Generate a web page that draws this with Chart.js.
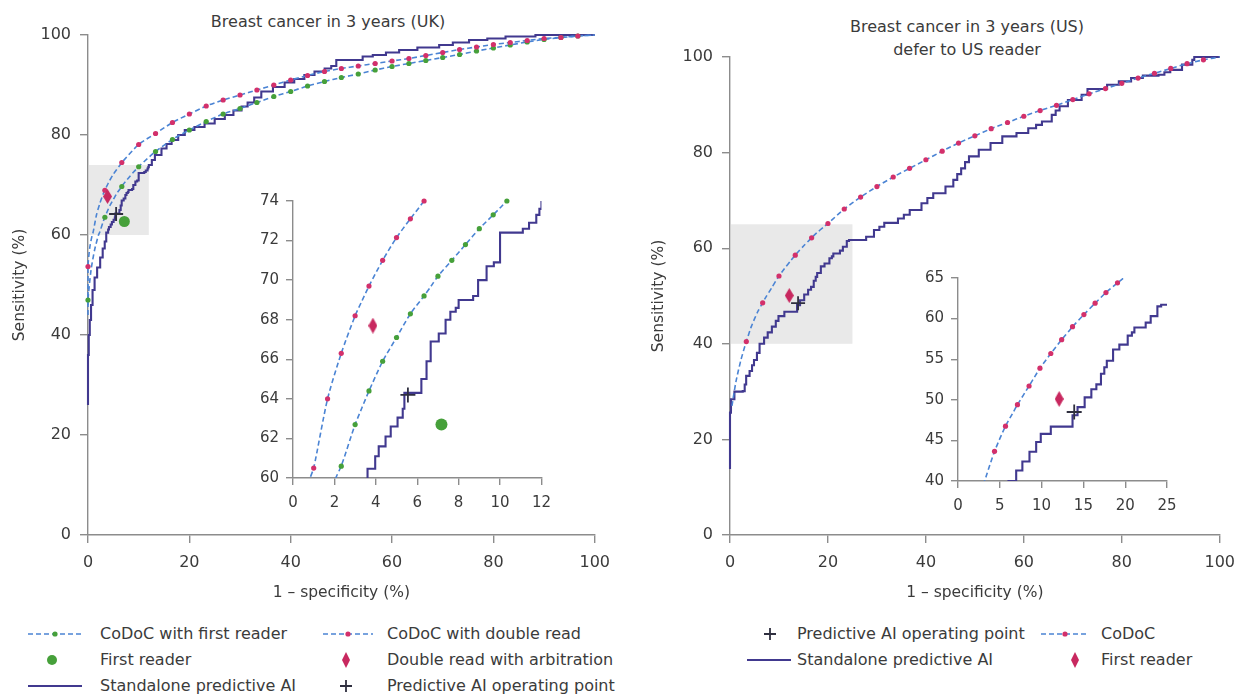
<!DOCTYPE html>
<html>
<head>
<meta charset="utf-8">
<script src="https://cdn.jsdelivr.net/npm/chart.js@4.4.1/dist/chart.umd.min.js"></script>
<style>
  body { margin: 0; width: 1245px; height: 698px; background: #fff; position: relative; overflow: hidden;
         font-family: "DejaVu Sans", sans-serif; color: #3b3b3b; }
  .pane { position: absolute; }
  .title { position: absolute; font-size: 16px; text-align: center; line-height: 23px; white-space: nowrap; }
  .sym { position: absolute; }
  .lab { position: absolute; font-size: 16px; white-space: nowrap; line-height: 18px; }
</style>
</head>
<body>

<div class="title" style="left:178px;top:10px;width:300px">Breast cancer in 3 years (UK)</div>
<div class="title" style="left:817px;top:15px;width:300px">Breast cancer in 3 years (US)<br>defer to US reader</div>

<div class="pane" style="left:0;top:0"><canvas id="ukMain" width="620" height="615"></canvas></div>
<div class="pane" style="left:620px;top:0"><canvas id="usMain" width="625" height="615"></canvas></div>
<div class="pane" style="left:240px;top:185px"><canvas id="ukInset" width="320" height="340"></canvas></div>
<div class="pane" style="left:900px;top:262px"><canvas id="usInset" width="290" height="260"></canvas></div>

<!-- legend, UK panel -->
<svg class="sym" style="left:27px;top:628px" width="56" height="12"><line x1="1" y1="6" x2="55" y2="6" stroke="#4b84d4" stroke-width="1.6" stroke-dasharray="5 3"/><circle cx="28" cy="6" r="2.6" fill="#46a03a"/></svg>
<div class="lab" style="left:100px;top:625px">CoDoC with first reader</div>
<svg class="sym" style="left:322px;top:628px" width="52" height="12"><line x1="1" y1="6" x2="51" y2="6" stroke="#4b84d4" stroke-width="1.6" stroke-dasharray="5 3"/><circle cx="26" cy="6" r="2.6" fill="#d3306b"/></svg>
<div class="lab" style="left:387px;top:625px">CoDoC with double read</div>

<svg class="sym" style="left:45px;top:653px" width="14" height="14"><circle cx="7" cy="7" r="5" fill="#46a03a"/></svg>
<div class="lab" style="left:100px;top:651px">First reader</div>
<svg class="sym" style="left:341px;top:651px" width="10" height="18"><polygon points="5,1 9,9 5,17 1,9" fill="#c8285f"/></svg>
<div class="lab" style="left:387px;top:651px">Double read with arbitration</div>

<svg class="sym" style="left:27px;top:680px" width="56" height="12"><line x1="1" y1="6" x2="55" y2="6" stroke="#41398f" stroke-width="2.2"/></svg>
<div class="lab" style="left:100px;top:677px">Standalone predictive AI</div>
<svg class="sym" style="left:339px;top:679px" width="14" height="14"><path d="M7 1V13M1 7H13" stroke="#2f2f3f" stroke-width="1.8"/></svg>
<div class="lab" style="left:387px;top:677px">Predictive AI operating point</div>

<!-- legend, US panel -->
<svg class="sym" style="left:763px;top:627px" width="14" height="14"><path d="M7 1V13M1 7H13" stroke="#2f2f3f" stroke-width="1.8"/></svg>
<div class="lab" style="left:797px;top:625px">Predictive AI operating point</div>
<svg class="sym" style="left:1040px;top:628px" width="50" height="12"><line x1="1" y1="6" x2="49" y2="6" stroke="#4b84d4" stroke-width="1.6" stroke-dasharray="5 3"/><circle cx="25" cy="6" r="2.6" fill="#d3306b"/></svg>
<div class="lab" style="left:1101px;top:625px">CoDoC</div>
<svg class="sym" style="left:746px;top:654px" width="46" height="12"><line x1="1" y1="6" x2="45" y2="6" stroke="#41398f" stroke-width="2.2"/></svg>
<div class="lab" style="left:797px;top:651px">Standalone predictive AI</div>
<svg class="sym" style="left:1070px;top:651px" width="10" height="18"><polygon points="5,1 9,9 5,17 1,9" fill="#c8285f"/></svg>
<div class="lab" style="left:1101px;top:651px">First reader</div>

<script>
// ---- data: UK panel (x = 1 - specificity %, y = sensitivity %) ----
const ukTicks = [0, 20, 40, 60, 80, 100];
const ukInsetX = [0, 12];
const ukInsetY = [60, 74];
const ukInsetTicksX = [0, 2, 4, 6, 8, 10, 12];
const ukInsetTicksY = [60, 62, 64, 66, 68, 70, 72, 74];

// CoDoC with double read
const ukDoubleCurve = [[0,46],[0,53.7],[0.35,57.5],[0.83,60],[1.0,60.5],[1.67,64.0],[2.33,66.3],[3.0,68.2],[3.33,68.95],
  [3.67,69.7],[4.33,71.0],[5.0,72.15],[5.67,73.1],[6.33,74.0],[6.67,74.5],[10,78.1],[13.33,80.3],[16.67,82.5],[20,84.2],
  [23.33,85.8],[26.67,87.0],[30,88.0],[33.33,89.0],[36.67,90.0],[40,91.0],[43.33,91.9],[46.67,92.7],[50,93.3],[53.33,93.8],
  [56.67,94.3],[60,94.8],[63.33,95.3],[66.67,95.9],[70,96.5],[73.33,97.1],[76.67,97.6],[80,98.1],[83.33,98.5],[86.67,98.9],
  [90,99.3],[93.33,99.5],[96.67,99.8],[100,100]];
const ukDoubleMarks = [[0,53.7],[3.33,68.95],[6.67,74.5],[10,78.1],[13.33,80.3],[16.67,82.5],[20,84.2],[23.33,85.8],
  [26.67,87.0],[30,88.0],[33.33,89.0],[36.67,90.0],[40,91.0],[43.33,91.9],[46.67,92.7],[50,93.3],[53.33,93.8],[56.67,94.3],
  [60,94.8],[63.33,95.3],[66.67,95.9],[70,96.5],[73.33,97.1],[76.67,97.6],[80,98.1],[83.33,98.5],[86.67,98.9],[90,99.3],
  [93.33,99.5],[96.67,99.8]];
const ukDoubleInsetMarks = [[1.0,60.5],[1.67,64.0],[2.33,66.3],[3.0,68.2],[3.67,69.7],[4.33,71.0],[5.0,72.15],[5.67,73.1],[6.33,74.0]];

// CoDoC with first reader
const ukFirstCurve = [[0,44],[0,47],[0.6,53],[1.3,57],[2.07,60],[2.33,60.6],[3.0,62.7],[3.33,63.55],[3.67,64.4],[4.33,65.9],
  [5.0,67.1],[5.67,68.3],[6.33,69.2],[6.67,69.7],[7.0,70.2],[7.67,71.0],[8.33,71.8],[9.0,72.6],[9.67,73.3],[10,73.65],
  [10.33,74.0],[13.33,76.7],[16.67,79.1],[20,81.0],[23.33,82.7],[26.67,84.2],[30,85.3],[33.33,86.5],[36.67,87.7],[40,88.7],
  [43.33,89.8],[46.67,90.7],[50,91.5],[53.33,92.2],[56.67,93.0],[60,93.7],[63.33,94.3],[66.67,94.9],[70,95.5],[73.33,96.1],
  [76.67,96.8],[80,97.4],[83.33,98.0],[86.67,98.6],[90,99.1],[93.33,99.5],[96.67,99.8],[100,100]];
const ukFirstMarks = [[0,47],[3.33,63.55],[6.67,69.7],[10,73.65],[13.33,76.7],[16.67,79.1],[20,81.0],[23.33,82.7],[26.67,84.2],
  [30,85.3],[33.33,86.5],[36.67,87.7],[40,88.7],[43.33,89.8],[46.67,90.7],[50,91.5],[53.33,92.2],[56.67,93.0],[60,93.7],
  [63.33,94.3],[66.67,94.9],[70,95.5],[73.33,96.1],[76.67,96.8],[80,97.4],[83.33,98.0],[86.67,98.6],[90,99.1],[93.33,99.5],
  [96.67,99.8]];
const ukFirstInsetMarks = [[2.33,60.6],[3.0,62.7],[3.67,64.4],[4.33,65.9],[5.0,67.1],[5.67,68.3],[6.33,69.2],[7.0,70.2],
  [7.67,71.0],[8.33,71.8],[9.0,72.6],[9.67,73.3],[10.33,74.0]];

// Standalone predictive AI (step corners)
const ukAiCurve = [[0,26],[0,36],[0.15,40],[0.35,43],[0.6,46],[0.9,49],[1.3,51.5],[1.8,53.5],[2.4,55.5],[2.9,57.3],[3.3,58.7],
  [3.6,60.47],[3.97,61.1],[4.14,61.6],[4.47,62.1],[4.72,62.6],[5.05,63.05],[5.3,63.5],[5.38,64.3],[6.2,65.0],[6.45,65.9],
  [6.65,66.9],[7.04,67.3],[7.37,68.0],[7.6,68.4],[7.86,68.6],[8.0,69.0],[8.7,69.2],[8.94,70.0],[9.35,70.7],[9.7,70.9],
  [10.0,72.4],[11.1,72.6],[11.4,72.9],[11.75,73.3],[11.9,73.6],[12.0,74.0],[12.6,75.0],[13.2,76.0],[14.5,77.3],[15.5,78.2],
  [16.5,79.0],[17.8,80.0],[19.1,81.0],[21.0,81.6],[23.0,82.3],[25.0,83.2],[27.0,84.0],[28.7,84.9],[30.3,85.7],[31.5,86.5],
  [32.8,87.5],[34.2,88.7],[36.5,89.6],[38.8,90.5],[40.7,91.2],[42.7,92.0],[44.7,92.7],[46.7,93.3],[48.0,93.8],[49.0,95.0],
  [54.2,95.7],[56.2,96.0],[58.8,96.5],[61.4,97.0],[65.0,97.5],[69.3,98.0],[72.0,98.5],[75.2,99.0],[78.8,99.3],[82.4,99.7],
  [88.3,100],[100,100]];

const ukAiPoint = [[5.55, 64.2]];
const ukDoubleReadPoint = [[3.86, 67.7]];
const ukFirstReaderPoint = [[7.17, 62.7]];

// ---- data: US panel ----
const usTicks = [0, 20, 40, 60, 80, 100];
const usInsetX = [0, 25];
const usInsetY = [40, 65];
const usInsetTicksX = [0, 5, 10, 15, 20, 25];
const usInsetTicksY = [40, 45, 50, 55, 60, 65];

const usCodocCurve = [[0.4,27],[1.2,32],[2.2,36.5],[3.18,40],[3.33,40.46],[4.37,43.65],[5.68,46.75],[6.67,48.58],[7.11,49.4],
  [8.5,51.7],[9.8,53.9],[10,54.18],[11.1,55.7],[12.4,57.4],[13.33,58.54],[13.7,59.0],[15.06,60.5],[16.4,61.9],[16.67,62.17],
  [17.7,63.2],[19.08,64.4],[20,65.17],[23.33,68.2],[26.67,70.7],[30,72.9],[33.33,74.9],[36.67,76.7],[40,78.5],[43.33,80.3],
  [46.67,82],[50,83.5],[53.33,85.0],[56.67,86.3],[60,87.6],[63.33,88.8],[66.67,89.9],[70,91.1],[73.33,92.3],[76.67,93.4],
  [80,94.5],[83.33,95.6],[86.67,96.6],[90,97.6],[93.33,98.6],[96.67,99.4],[100,100]];
const usCodocMarks = [[3.33,40.46],[6.67,48.58],[10,54.18],[13.33,58.54],[16.67,62.17],[20,65.17],[23.33,68.2],[26.67,70.7],
  [30,72.9],[33.33,74.9],[36.67,76.7],[40,78.5],[43.33,80.3],[46.67,82],[50,83.5],[53.33,85.0],[56.67,86.3],[60,87.6],
  [63.33,88.8],[66.67,89.9],[70,91.1],[73.33,92.3],[76.67,93.4],[80,94.5],[83.33,95.6],[86.67,96.6],[90,97.6],[93.33,98.6],
  [96.67,99.4]];
const usCodocInsetMarks = [[4.37,43.65],[5.68,46.75],[7.11,49.4],[8.5,51.7],[9.8,53.9],[11.1,55.7],[12.4,57.4],[13.7,59.0],
  [15.06,60.5],[16.4,61.9],[17.7,63.2],[19.08,64.4]];

const usAiCurve = [[0,13.8],[0,25.6],[0.2,28.4],[0.9,30.0],[2.6,30.1],[3.0,31.5],[3.3,33.3],[4.0,34.3],[4.5,35.5],[4.9,36.6],
  [5.5,38.1],[6.04,40.0],[6.96,41.3],[7.7,42.4],[8.55,43.6],[9.35,44.8],[9.9,45.8],[11.1,46.7],[13.7,48.1],[14.3,49.1],
  [15.15,50.3],[15.95,51.3],[16.55,51.9],[17.1,53.2],[17.5,54.0],[17.8,54.8],[18.55,56.2],[19.3,56.8],[20.3,57.9],[20.8,58.3],
  [21.1,58.9],[22.45,59.5],[23.05,60.3],[23.85,61.5],[24.3,61.7],[27.8,62.4],[29.4,63.8],[30.5,64.5],[31.5,65.3],[34.3,66.2],
  [35.5,67.0],[36.7,68.0],[39.1,69.4],[40.3,70.5],[41.5,71.5],[44.0,72.9],[45.6,74.3],[46.4,75.5],[47.2,76.7],[48.0,78.0],
  [48.8,79.2],[50.8,80.6],[53.2,82.0],[55.6,83.4],[58.5,84.1],[60.9,85.1],[62.5,85.8],[63.7,86.5],[65.7,87.9],[66.5,88.8],
  [67.3,89.7],[69.0,91.0],[71.8,92.1],[73.0,93.3],[77.0,94.2],[79.4,94.9],[81.9,95.6],[84.3,96.1],[87.5,96.3],[88.7,96.8],
  [89.9,97.3],[92.3,98.4],[94.4,99.4],[94.8,100],[100,100]];

const usAiPoint = [[13.9, 48.5]];
const usFirstReaderPoint = [[12.1, 50.1]];

// ---- styling ----
const FONT = '"DejaVu Sans", sans-serif';
const AXIS = '#8c8c8c';
const TEXT = '#3b3b3b';
const DASH_BLUE = '#4b84d4';
const PINK = '#d3306b';
const GREEN = '#46a03a';
const NAVY = '#41398f';
const DIAMOND = '#c8285f';
const CROSS = '#2f2f3f';
const SHADE = '#e9e9e9';

const pts = arr => arr.map(([x, y]) => ({ x, y }));

// tall diamond marker as a small canvas
function diamond(w, h, color) {
  const c = document.createElement('canvas');
  c.width = w; c.height = h;
  const g = c.getContext('2d');
  g.fillStyle = color;
  g.beginPath();
  g.moveTo(w / 2, 0); g.lineTo(w, h / 2); g.lineTo(w / 2, h); g.lineTo(0, h / 2);
  g.closePath(); g.fill();
  return c;
}

// grey box showing the zoomed area
const shadeBox = {
  id: 'shadeBox',
  beforeDatasetsDraw(chart, args, opts) {
    if (!opts.xr) return;
    const { ctx, scales: { x, y } } = chart;
    const x0 = x.getPixelForValue(opts.xr[0]), x1 = x.getPixelForValue(opts.xr[1]);
    const y0 = y.getPixelForValue(opts.yr[0]), y1 = y.getPixelForValue(opts.yr[1]);
    ctx.save();
    ctx.fillStyle = SHADE;
    ctx.fillRect(x0 + 1, y1, x1 - x0 - 1, y0 - y1);
    ctx.restore();
  }
};

function axis(range, ticks, o) {
  return {
    type: 'linear',
    min: range[0],
    max: range[1],
    afterBuildTicks: s => { s.ticks = ticks.map(v => ({ value: v })); },
    grid: { drawOnChartArea: false, drawTicks: true, tickLength: o.tickLen, color: AXIS, lineWidth: 1.4 },
    border: { display: true, color: AXIS, width: 1.4 },
    ticks: { color: TEXT, font: { family: FONT, size: o.size }, padding: o.pad, maxRotation: 0, autoSkip: false },
    title: o.title
      ? { display: true, text: o.title, color: TEXT, font: { family: FONT, size: 15.5 }, padding: o.titlePad }
      : { display: false },
    afterFit: s => {
      if (o.width) s.width = o.width;
      if (o.height) s.height = o.height;
    }
  };
}

function lineSet(data, dashed, color, order) {
  return {
    data: pts(data), showLine: true, pointRadius: 0, borderColor: color,
    borderWidth: dashed ? 1.6 : 2.1, borderDash: dashed ? [5, 3] : [],
    stepped: !dashed, tension: dashed ? 0.25 : 0, order
  };
}

function markSet(data, color) {
  return { data: pts(data), pointRadius: 2.6, pointBackgroundColor: color, pointBorderWidth: 0, order: 1, clip: false };
}

function makeChart(id, datasets, o) {
  return new Chart(document.getElementById(id), {
    type: 'scatter',
    data: { datasets },
    options: {
      responsive: false,
      animation: false,
      events: [],
      layout: { padding: o.padding },
      plugins: { legend: { display: false }, tooltip: { enabled: false }, shadeBox: o.box || {} },
      scales: {
        x: axis(o.xr, o.xt, { tickLen: o.tickLen, size: o.size, pad: o.xPad, height: o.xh, title: o.xTitle, titlePad: { bottom: 0 } }),
        y: axis(o.yr, o.yt, { tickLen: o.tickLen, size: o.size, pad: o.yPad, width: o.yw, title: o.yTitle, titlePad: { top: o.yTitlePad } })
      }
    },
    plugins: [shadeBox]
  });
}

// ---- UK main ----
makeChart('ukMain', [
  { data: pts(ukAiPoint), pointStyle: 'cross', pointRadius: 7, borderColor: CROSS, pointBorderWidth: 1.8, order: 0, clip: false },
  { data: pts(ukDoubleReadPoint), pointStyle: diamond(9, 15, DIAMOND), order: 0, clip: false },
  { data: pts(ukFirstReaderPoint), pointRadius: 5.5, pointBackgroundColor: GREEN, pointBorderWidth: 0, order: 0, clip: false },
  markSet(ukDoubleMarks, PINK),
  markSet(ukFirstMarks, GREEN),
  Object.assign(lineSet(ukAiCurve, false, NAVY, 3), { clip: false }),
  Object.assign(lineSet(ukDoubleCurve, true, DASH_BLUE, 2), { clip: false }),
  Object.assign(lineSet(ukFirstCurve, true, DASH_BLUE, 2), { clip: false })
], {
  padding: { top: 35, right: 24, bottom: 13, left: 0 },
  xr: [0, 100], yr: [0, 100], xt: ukTicks, yt: ukTicks,
  tickLen: 8, size: 16, xPad: 10, yPad: 9, xh: 67, yw: 88,
  xTitle: '1 – specificity (%)', yTitle: 'Sensitivity (%)', yTitlePad: 11,
  box: { xr: ukInsetX, yr: ukInsetY }
});

// ---- UK inset ----
makeChart('ukInset', [
  { data: pts(ukAiPoint), pointStyle: 'cross', pointRadius: 7.5, borderColor: CROSS, pointBorderWidth: 1.8, order: 0, clip: false },
  { data: pts(ukDoubleReadPoint), pointStyle: diamond(9, 16, DIAMOND), order: 0, clip: false },
  { data: pts(ukFirstReaderPoint), pointRadius: 6, pointBackgroundColor: GREEN, pointBorderWidth: 0, order: 0, clip: false },
  markSet(ukDoubleInsetMarks, PINK),
  markSet(ukFirstInsetMarks, GREEN),
  lineSet(ukAiCurve, false, NAVY, 3),
  lineSet(ukDoubleCurve, true, DASH_BLUE, 2),
  lineSet(ukFirstCurve, true, DASH_BLUE, 2)
], {
  padding: { top: 12, right: 18, bottom: 0, left: 0 },
  xr: ukInsetX, yr: ukInsetY, xt: ukInsetTicksX, yt: ukInsetTicksY,
  tickLen: 7, size: 15, xPad: 9, yPad: 7, xh: 47, yw: 53
});

// ---- US main ----
makeChart('usMain', [
  { data: pts(usAiPoint), pointStyle: 'cross', pointRadius: 7, borderColor: CROSS, pointBorderWidth: 1.8, order: 0, clip: false },
  { data: pts(usFirstReaderPoint), pointStyle: diamond(9, 15, DIAMOND), order: 0, clip: false },
  markSet(usCodocMarks, PINK),
  Object.assign(lineSet(usAiCurve, false, NAVY, 3), { clip: false }),
  Object.assign(lineSet(usCodocCurve, true, DASH_BLUE, 2), { clip: false })
], {
  padding: { top: 57, right: 23, bottom: 13, left: 0 },
  xr: [0, 100], yr: [0, 100], xt: usTicks, yt: usTicks,
  tickLen: 8, size: 16, xPad: 10, yPad: 9, xh: 67, yw: 110,
  xTitle: '1 – specificity (%)', yTitle: 'Sensitivity (%)', yTitlePad: 30,
  box: { xr: usInsetX, yr: usInsetY }
});

// ---- US inset ----
makeChart('usInset', [
  { data: pts(usAiPoint), pointStyle: 'cross', pointRadius: 7.5, borderColor: CROSS, pointBorderWidth: 1.8, order: 0, clip: false },
  { data: pts(usFirstReaderPoint), pointStyle: diamond(9, 16, DIAMOND), order: 0, clip: false },
  markSet(usCodocInsetMarks, PINK),
  lineSet(usAiCurve, false, NAVY, 3),
  lineSet(usCodocCurve, true, DASH_BLUE, 2)
], {
  padding: { top: 15, right: 23, bottom: 0, left: 0 },
  xr: usInsetX, yr: usInsetY, xt: usInsetTicksX, yt: usInsetTicksY,
  tickLen: 7, size: 15, xPad: 9, yPad: 7, xh: 41, yw: 58
});
</script>
</body>
</html>
